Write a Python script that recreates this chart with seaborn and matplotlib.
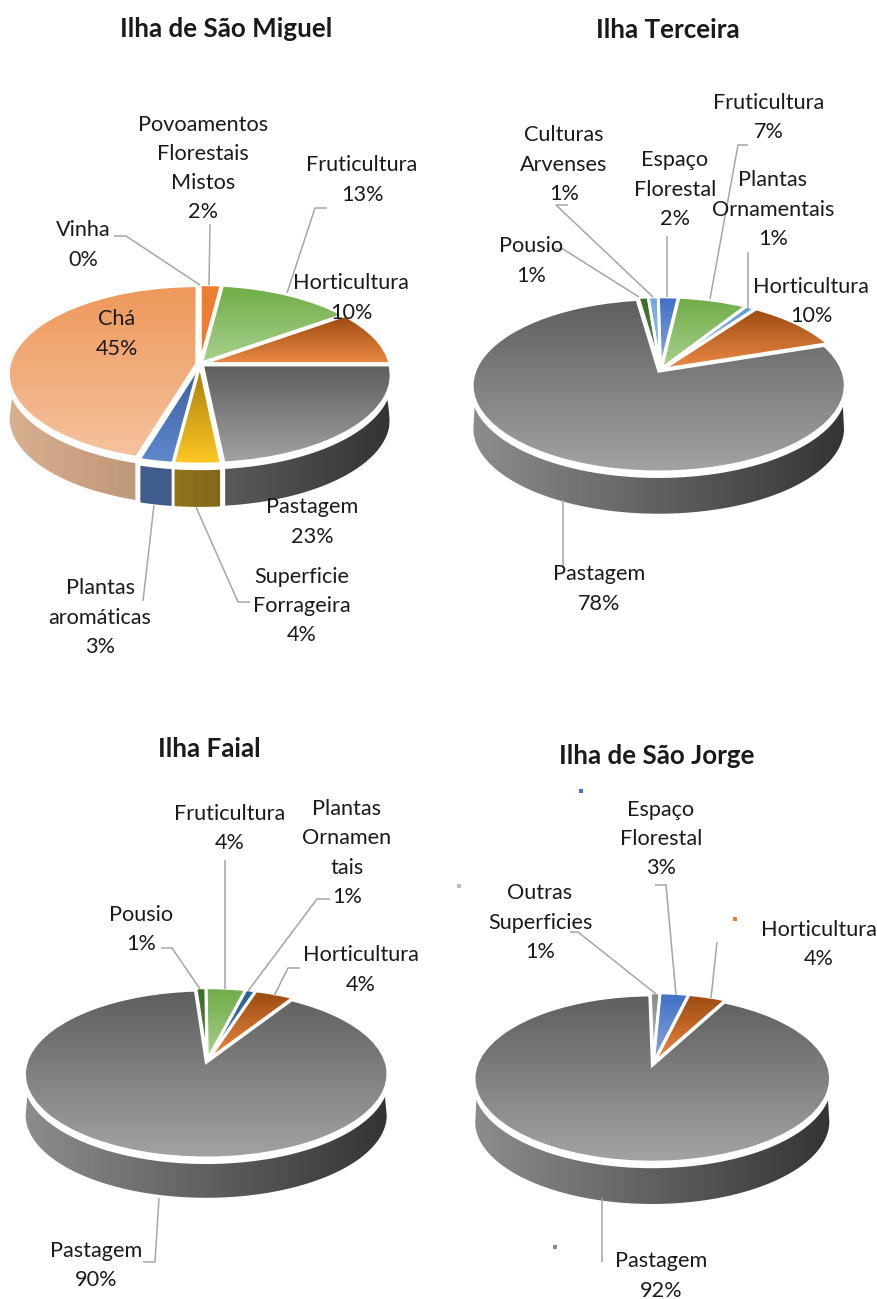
import numpy as np
import matplotlib
matplotlib.use("Agg")
import matplotlib.pyplot as plt
from matplotlib.transforms import Transform
import seaborn as sns

# ---------- data ----------
sm_labels = ["Vinha", "Povoamentos\nFlorestais\nMistos", "Fruticultura", "Horticultura", "Pastagem",
             "Superficie\nForrageira", "Plantas\naromáticas", "Chá"]
sm_values = [0, 2, 13, 10, 23.4, 3.6, 2.6, 45.4]
te_labels = ["Pousio", "Culturas\nArvenses", "Espaço\nFlorestal", "Fruticultura", "Plantas\nOrnamentais",
             "Horticultura", "Pastagem"]
te_values = [1, 1, 2, 7, 1, 10, 78]
fa_labels = ["Pousio", "Fruticultura", "Plantas\nOrnamen\ntais", "Horticultura", "Pastagem"]
fa_values = [1, 4, 1, 4, 90]
sj_labels = ["Outras\nSuperficies", "Espaço\nFlorestal", "Horticultura", "Pastagem"]
sj_values = [1, 3, 4, 92]

# ---------- colours per category: top dark, top light, side left, side right ----------
STYLE = {
    "Vinha": ("#4472C4", "#4472C4", "#3F5C8C", "#3F5C8C"),
    "Povoamentos": ("#ED7D31", "#ED7D31", "#A85A24", "#A85A24"),
    "Fruticultura": ("#6FAC46", "#A9D18E", "#5B8A3A", "#5B8A3A"),
    "Horticultura": ("#9C4A10", "#EC8A45", "#8C4A1A", "#8C4A1A"),
    "Pastagem": ("#5E5E5E", "#A3A3A3", "#8C8C8C", "#343434"),
    "Superficie": ("#A67C0A", "#FFC825", "#C9A030", "#4A3A05"),
    "Plantas aromáticas": ("#3A5F9E", "#6088CE", "#3F5C8C", "#3F5C8C"),
    "Plantas Ornamentais": ("#5B9BD5", "#9DC3E6", "#5B9BD5", "#5B9BD5"),
    "Plantas Ornamen": ("#255E91", "#4E8FCB", "#255E91", "#255E91"),
    "Chá": ("#EE985A", "#F5C29E", "#D8AF8F", "#8A664B"),
    "Pousio": ("#3F6B2A", "#5A8A3D", "#3F6B2A", "#3F6B2A"),
    "Culturas": ("#6FA8DC", "#9DC3E6", "#6FA8DC", "#6FA8DC"),
    "Espaço": ("#3F6FC4", "#8FAADC", "#3F5C8C", "#3F5C8C"),
    "Outras": ("#8A8A8A", "#BDBDBD", "#8A8A8A", "#8A8A8A"),
}


def style_of(label):
    words = label.replace("\n", " ").split()
    two = " ".join(words[:2])
    return STYLE[two] if two in STYLE else STYLE[words[0]]


class Perspective(Transform):
    """Tilted-disc projection from the unit circle to figure pixels."""
    input_dims = 2
    output_dims = 2
    has_inverse = False

    def __init__(self, cx, cy, a, c, b, shift=0.0):
        super().__init__()
        self.cx, self.cy, self.a, self.c, self.b, self.shift = cx, cy, a, c, b, shift

    def transform_non_affine(self, values):
        values = np.asarray(values, dtype=float)
        u, v = values[:, 0], values[:, 1]
        d = 1 + self.b * v
        return np.column_stack([self.cx + self.a * u / d, self.cy + self.shift - self.c * v / d])


W, H = 877, 1299
sns.set_theme(style="white")
plt.rcParams["font.family"] = ["Lato", "DejaVu Sans"]
fig = plt.figure(figsize=(W / 100, H / 100), dpi=100, facecolor="white")
ax = fig.add_axes([0, 0, 1, 1])

EXPLODE = 0.018
EDGE = 2.0
UP_V = 0.28


def draw_pie(labels, values, start, cx, cy, a, c, b, depth):
    values = np.asarray(values, dtype=float)
    persp = Perspective(cx, cy, a, c, b)
    frac = values / values.sum()
    bounds = start - 360 * np.concatenate([[0], np.cumsum(frac)])
    styles = [style_of(l) for l in labels]
    gap = 5
    up = Perspective(cx, cy, a, c, b, shift=gap)
    low = Perspective(cx, cy, a, c, b, shift=depth)
    xleft, xright = cx - a * 1.01, cx + a * 1.01
    for i, st in enumerate(styles):
        if values[i] <= 0:
            continue
        mid = np.radians((bounds[i] + bounds[i + 1]) / 2)
        off = EXPLODE * np.array([np.cos(mid), np.sin(mid)])
        th = np.radians(np.linspace(bounds[i], bounds[i + 1], 400))
        mu = np.sin(th) <= -UP_V
        ml = np.sin(th) <= -b
        if not ml.any():
            continue
        pts_low = low.transform_non_affine(np.column_stack([np.cos(th[ml]), np.sin(th[ml])]) + off)
        if mu.any():
            pts_up = up.transform_non_affine(np.column_stack([np.cos(th[mu]), np.sin(th[mu])]) + off)
        else:
            pts_up = pts_low[:1]
        poly = np.vstack([pts_up, pts_low[::-1]])
        patch = ax.fill(poly[:, 0], poly[:, 1], color=st[2], zorder=1, lw=0)[0]
        cmap = sns.blend_palette([st[2], st[3]], as_cmap=True)
        im = ax.imshow(np.linspace(0, 1, 256)[None, :], cmap=cmap, aspect="auto",
                       extent=[xleft, xright, cy + c + depth + 30, cy - 30], zorder=1.1)
        im.set_clip_path(patch)
        ax.fill(poly[:, 0], poly[:, 1], facecolor="none", edgecolor="white", lw=1.6, zorder=1.2)

    tops, _ = ax.pie(values, colors=[s[1] for s in styles], startangle=start, counterclock=False,
                     explode=[EXPLODE] * len(values), frame=True, normalize=True,
                     wedgeprops=dict(linewidth=0, zorder=2))
    for w, st, val in zip(tops, styles, values):
        w.set_transform(persp + ax.transData)
        if val <= 0:
            continue
        ext = persp.transform_path(w.get_path()).get_extents()
        cmap = sns.blend_palette([st[0], st[1]], as_cmap=True)
        im = ax.imshow(np.linspace(0, 1, 256)[:, None], cmap=cmap, aspect="auto",
                       extent=[ext.x0, ext.x1, ext.y1, ext.y0], zorder=2.1)
        im.set_clip_path(w)
    rims, _ = ax.pie(values, startangle=start, counterclock=False,
                     explode=[EXPLODE] * len(values), frame=True, normalize=True,
                     wedgeprops=dict(facecolor="none", edgecolor="white", linewidth=EDGE, zorder=2.5))
    for w in rims:
        w.set_transform(persp + ax.transData)
    ax.set_aspect("auto")
    ax.set_xlim(0, W)
    ax.set_ylim(H, 0)
    ax.autoscale(False)


ax.set_xlim(0, W)
ax.set_ylim(H, 0)
draw_pie(sm_labels, sm_values, 90, 200, 364, 187, 86.9, 0.1136, 44)
draw_pie(te_labels, te_values, 98, 660.5, 370, 183.5, 83.7, 0.163, 43)
draw_pie(fa_labels, fa_values, 94, 207, 1061, 179.5, 81.9, 0.1377, 41)
draw_pie(sj_labels, sj_values, 91, 653, 1064, 175.5, 81, 0.157, 43)

# ---------- leader lines ----------
LEAD = "#A6A6A6"
leaders = [
    [(114, 236), (126, 236), (200, 285)], [(210, 224), (209, 285)], [(327, 208), (315, 208), (287, 293)],
    [(154, 505), (143, 601)], [(196, 507), (238, 602), (250, 602)],
    [(748, 145), (738, 145), (710, 299)], [(568, 205), (556, 205), (653, 297)], [(667, 236), (667, 297)],
    [(748, 252), (748, 308)], [(552, 249), (563, 249), (639, 297)], [(563, 500), (563, 568)],
    [(225, 860), (225, 989)], [(330, 899), (317, 899), (248, 991)], [(161, 948), (172, 948), (200, 989)],
    [(300, 968), (288, 968), (274, 996)], [(143, 1262), (155, 1262), (159, 1198)],
    [(655, 885), (666, 885), (676, 995)], [(570, 932), (578, 932), (656, 994)], [(717, 942), (711, 998)],
    [(602, 1198), (602, 1262)],
]
for seg in leaders:
    xs, ys = zip(*seg)
    ax.plot(xs, ys, color=LEAD, lw=1.1, zorder=3, solid_capstyle="butt")

# ---------- stray legend keys ----------
for x, y, col in [(581, 791, "#4472C4"), (459, 886, "#BDBDBD"), (735, 919, "#ED7D31"), (555, 1247, "#8A8A8A")]:
    ax.scatter([x], [y], s=6, marker="s", color=col, linewidths=0, zorder=3)

# ---------- text ----------
LABEL_FS = 15.6
TITLE_FS = 18.7
TXT = "#1A1A1A"
texts = [
    ("Vinha\n0%", 83, 245), ("Povoamentos\nFlorestais\nMistos\n2%", 203, 168.5), ("Fruticultura\n13%", 362, 180),
    ("Horticultura\n10%", 351, 298), ("Chá\n45%", 117, 334), ("Pastagem\n23%", 312, 522),
    ("Superficie\nForrageira\n4%", 302, 606), ("Plantas\naromáticas\n3%", 100, 617.5),
    ("Fruticultura\n7%", 769, 117.5), ("Culturas\nArvenses\n1%", 564, 164.5), ("Espaço\nFlorestal\n2%", 675, 189.5),
    ("Plantas\nOrnamentais\n1%", 773, 209.5), ("Pousio\n1%", 531, 261), ("Horticultura\n10%", 811, 301.5),
    ("Pastagem\n78%", 599, 589),
    ("Fruticultura\n4%", 230, 828.5), ("Plantas\nOrnamen\ntais\n1%", 347, 853), ("Pousio\n1%", 141, 929.5),
    ("Horticultura\n4%", 361, 970), ("Pastagem\n90%", 96, 1265.5),
    ("Espaço\nFlorestal\n3%", 661, 839), ("Outras\nSuperficies\n1%", 540, 922.5), ("Horticultura\n4%", 819, 944.5),
    ("Pastagem\n92%", 661, 1276),
]
for s, x, y in texts:
    ax.text(x, y, s, ha="center", va="center", fontsize=LABEL_FS, color=TXT, linespacing=1.58, zorder=5)

titles = [("Ilha de São Miguel", 226, 29), ("Ilha Terceira", 668, 30), ("Ilha Faial", 209, 749),
          ("Ilha de São Jorge", 657, 756)]
for s, x, y in titles:
    ax.text(x, y, s, ha="center", va="center", fontsize=TITLE_FS, fontweight="bold", color=TXT, zorder=5)

ax.set_axis_off()
fig.savefig("out.png", dpi=100, facecolor="white")
